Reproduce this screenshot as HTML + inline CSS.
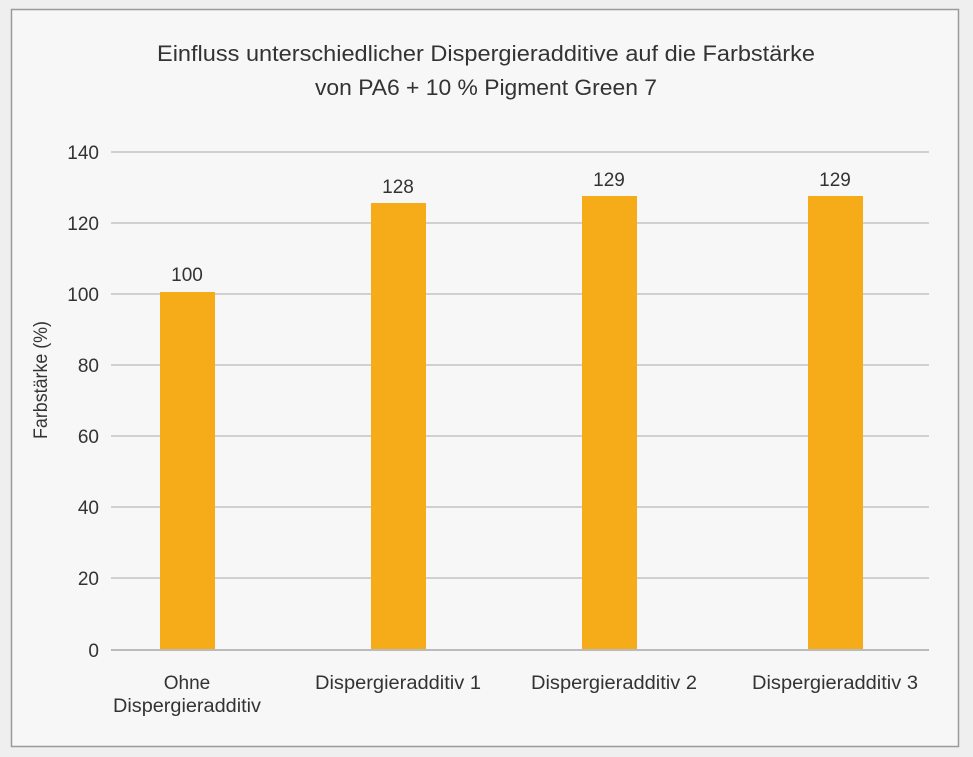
<!DOCTYPE html>
<html><head><meta charset="utf-8"><style>
html,body{margin:0;padding:0;background:#efefef;}
svg{display:block}
text{font-family:"Liberation Sans Narrow","Liberation Sans",sans-serif;fill:#333}
</style></head><body>
<svg width="973" height="757" viewBox="0 0 973 757" xmlns="http://www.w3.org/2000/svg">
<rect x="0" y="0" width="973" height="757" fill="#efefef"/>
<rect x="11.5" y="9.5" width="947" height="737" fill="#f7f7f7" stroke="#9a9a9a" stroke-width="1.5"/>
<text x="486" y="61" font-size="22" text-anchor="middle" textLength="658" lengthAdjust="spacingAndGlyphs">Einfluss unterschiedlicher Dispergieradditive auf die Farbstärke</text>
<text x="486" y="95" font-size="22" text-anchor="middle" textLength="342" lengthAdjust="spacingAndGlyphs">von PA6 + 10 % Pigment Green 7</text>
<g stroke="#d0d0d0" stroke-width="2">
<line x1="111" y1="152" x2="929" y2="152"/>
<line x1="111" y1="223" x2="929" y2="223"/>
<line x1="111" y1="294" x2="929" y2="294"/>
<line x1="111" y1="365" x2="929" y2="365"/>
<line x1="111" y1="436" x2="929" y2="436"/>
<line x1="111" y1="507" x2="929" y2="507"/>
<line x1="111" y1="578" x2="929" y2="578"/>
</g>
<g fill="#f6ac19">
<rect x="160" y="292" width="55" height="358"/>
<rect x="371" y="203" width="55" height="447"/>
<rect x="582" y="196" width="55" height="454"/>
<rect x="808" y="196" width="55" height="454"/>
</g>
<line x1="111" y1="650" x2="929" y2="650" stroke="#bbb" stroke-width="2"/>
<g font-size="19" text-anchor="end">
<text x="99" y="159">140</text><text x="99" y="230">120</text><text x="99" y="301">100</text>
<text x="99" y="372">80</text><text x="99" y="443">60</text><text x="99" y="514">40</text>
<text x="99" y="585">20</text><text x="99" y="657">0</text>
</g>
<g font-size="19" text-anchor="middle">
<text x="187" y="281">100</text><text x="398" y="193">128</text>
<text x="609" y="186">129</text><text x="835" y="186">129</text>
</g>
<text transform="translate(47,380) rotate(-90)" font-size="19" text-anchor="middle" textLength="118" lengthAdjust="spacingAndGlyphs">Farbstärke (%)</text>
<g font-size="19" text-anchor="middle">
<text x="187" y="689">Ohne</text>
<text x="187" y="712" textLength="148" lengthAdjust="spacingAndGlyphs">Dispergieradditiv</text>
<text x="398" y="689" textLength="166" lengthAdjust="spacingAndGlyphs">Dispergieradditiv 1</text>
<text x="614" y="689" textLength="166" lengthAdjust="spacingAndGlyphs">Dispergieradditiv 2</text>
<text x="835" y="689" textLength="166" lengthAdjust="spacingAndGlyphs">Dispergieradditiv 3</text>
</g>
</svg>
</body></html>
